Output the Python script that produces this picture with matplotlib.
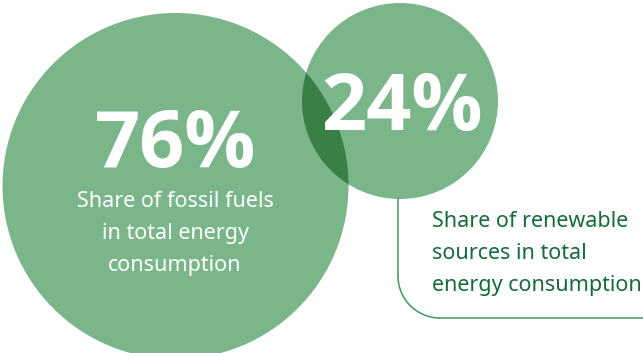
import matplotlib.pyplot as plt
from matplotlib.patches import Circle, Arc
from matplotlib import font_manager

plt.rcParams['font.family'] = ['Noto Sans', 'DejaVu Sans']

shares = [76, 24]
big_lines = ['Share of fossil fuels', 'in total energy', 'consumption']
small_lines = ['Share of renewable', 'sources in total', 'energy consumption']

base = '#7bb68a'
overlap = '#3a7f46'
text_green = '#176a3a'
line_green = '#3c9a5c'

# pick a family that really has a bold face for the big numbers
bold_family = 'DejaVu Sans'
for fam in ['Noto Sans', 'Open Sans', 'Lato']:
    names = [f for f in font_manager.fontManager.ttflist
             if f.name == fam and (f.weight in (600, 700, 'bold') or 'Bold' in f.fname)]
    if names:
        bold_family = fam
        break

fig = plt.figure(figsize=(6.43, 3.53), dpi=100)
ax = fig.add_axes([0, 0, 1, 1])
ax.set_xlim(0, 643)
ax.set_ylim(353, 0)
ax.set_aspect('equal')
ax.axis('off')

big = Circle((175.5, 186), 173, color=base, lw=0)
small = Circle((400, 101), 98, color=base, lw=0)
ax.add_patch(big)
ax.add_patch(small)
inter = Circle((400, 101), 98, color=overlap, lw=0)
ax.add_patch(inter)
inter.set_clip_path(big)

# leader line with rounded corner
rc = 42
ax.plot([398, 398], [199, 318 - rc], color=line_green, lw=1.1)
ax.add_patch(Arc((398 + rc, 318 - rc), 2 * rc, 2 * rc, theta1=90, theta2=180,
                 color=line_green, lw=1.1))
ax.plot([398 + rc, 643], [318, 318], color=line_green, lw=1.1)

ax.text(176, 167, f'{shares[0]}%', color='white', fontsize=57, fontweight='bold',
        family=bold_family, ha='center', va='baseline')
ax.text(402, 130, f'{shares[1]}%', color='white', fontsize=57, fontweight='bold',
        family=bold_family, ha='center', va='baseline')

for i, s in enumerate(big_lines):
    ax.text(175, 207 + 32 * i, s, color='white', fontsize=15.5, ha='center', va='baseline')
for i, s in enumerate(small_lines):
    ax.text(432, 227 + 32 * i, s, color=text_green, fontsize=15.5, ha='left', va='baseline')

fig.savefig('out.png', dpi=100)
